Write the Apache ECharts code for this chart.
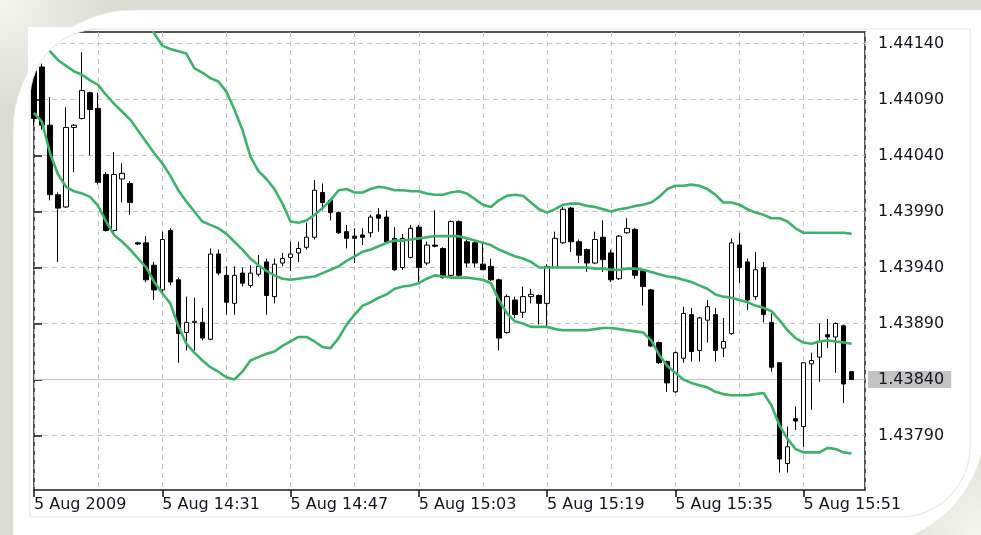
<!DOCTYPE html>
<html>
<head>
<meta charset="utf-8">
<script src="https://cdn.jsdelivr.net/npm/echarts@6/dist/echarts.min.js"></script>
<style>
  html, body { margin: 0; padding: 0; background: #dcdcd5; }
  #chart { width: 981px; height: 535px; }
</style>
</head>
<body>
<div id="chart"></div>
<script>
// EURUSD M1, 5 Aug 2009 14:15 - 15:57, with Bollinger Bands (20, 2)
const tickBars   = [0, 16, 32, 48, 64, 80, 96];
const tickLabels = ['5 Aug 2009', '5 Aug 14:31', '5 Aug 14:47', '5 Aug 15:03', '5 Aug 15:19', '5 Aug 15:35', '5 Aug 15:51'];
const priceTicks = [1.43790, 1.43840, 1.43890, 1.43940, 1.43990, 1.44040, 1.44090, 1.44140];

const open = [
  1.44116, 1.44119, 1.44067, 1.44005, 1.43994, 1.44065, 1.44073, 1.44096, 1.44082, 1.44023,
  1.43973, 1.44019, 1.44015, 1.43962, 1.43962, 1.43942, 1.43920, 1.43973, 1.43929, 1.43882,
  1.43891, 1.43891, 1.43876, 1.43952, 1.43933, 1.43908, 1.43935, 1.43924, 1.43934, 1.43945,
  1.43914, 1.43944, 1.43949, 1.43953, 1.43958, 1.43967, 1.44007, 1.44000, 1.43989, 1.43972,
  1.43968, 1.43969, 1.43971, 1.43987, 1.43985, 1.43966, 1.43940, 1.43949, 1.43976, 1.43944,
  1.43960, 1.43957, 1.43933, 1.43981, 1.43963, 1.43962, 1.43943, 1.43941, 1.43929, 1.43882,
  1.43911, 1.43900, 1.43914, 1.43915, 1.43908, 1.43940, 1.43962, 1.43993, 1.43963, 1.43956,
  1.43944, 1.43967, 1.43953, 1.43930, 1.43971, 1.43974, 1.43937, 1.43920, 1.43873, 1.43856,
  1.43829, 1.43859, 1.43898, 1.43866, 1.43893, 1.43898, 1.43868, 1.43881, 1.43960, 1.43945,
  1.43914, 1.43940, 1.43891, 1.43855, 1.43765, 1.43805, 1.43798, 1.43854, 1.43860, 1.43880,
  1.43878, 1.43888, 1.43847
];
const close = [
  1.44073, 1.44067, 1.44005, 1.43993, 1.44065, 1.44067, 1.44098, 1.44081, 1.44016, 1.43973,
  1.44023, 1.44024, 1.43998, 1.43961, 1.43929, 1.43920, 1.43965, 1.43927, 1.43881, 1.43891,
  1.43892, 1.43877, 1.43952, 1.43935, 1.43909, 1.43933, 1.43926, 1.43935, 1.43941, 1.43915,
  1.43943, 1.43948, 1.43952, 1.43957, 1.43967, 1.44009, 1.43998, 1.43989, 1.43971, 1.43966,
  1.43966, 1.43967, 1.43985, 1.43984, 1.43963, 1.43938, 1.43966, 1.43975, 1.43940, 1.43960,
  1.43959, 1.43931, 1.43981, 1.43933, 1.43944, 1.43944, 1.43938, 1.43929, 1.43877, 1.43914,
  1.43898, 1.43914, 1.43916, 1.43908, 1.43941, 1.43966, 1.43992, 1.43963, 1.43951, 1.43944,
  1.43965, 1.43947, 1.43929, 1.43968, 1.43975, 1.43933, 1.43923, 1.43870, 1.43855, 1.43837,
  1.43864, 1.43899, 1.43865, 1.43895, 1.43905, 1.43866, 1.43874, 1.43962, 1.43940, 1.43911,
  1.43938, 1.43898, 1.43851, 1.43769, 1.43780, 1.43803, 1.43855, 1.43857, 1.43874, 1.43878,
  1.43890, 1.43836, 1.43840
];
const high = [
  1.44120, 1.44122, 1.44092, 1.44007, 1.44083, 1.44068, 1.44132, 1.44097, 1.44096, 1.44025,
  1.44043, 1.44033, 1.44017, 1.43963, 1.43968, 1.43945, 1.43972, 1.43975, 1.43931, 1.43914,
  1.43913, 1.43904, 1.43957, 1.43956, 1.43941, 1.43941, 1.43940, 1.43942, 1.43951, 1.43948,
  1.43948, 1.43953, 1.43963, 1.43963, 1.43980, 1.44018, 1.44015, 1.44002, 1.43990, 1.43978,
  1.43975, 1.43975, 1.43987, 1.43993, 1.43991, 1.43976, 1.43970, 1.43978, 1.43978, 1.43963,
  1.43991, 1.43958, 1.43982, 1.43982, 1.43965, 1.43964, 1.43962, 1.43948, 1.43930, 1.43916,
  1.43914, 1.43923, 1.43921, 1.43916, 1.43943, 1.43972, 1.43994, 1.43994, 1.43965, 1.43957,
  1.43972, 1.43982, 1.43956, 1.43969, 1.43984, 1.43975, 1.43938, 1.43921, 1.43874, 1.43857,
  1.43865, 1.43905, 1.43904, 1.43896, 1.43911, 1.43904, 1.43895, 1.43966, 1.43971, 1.43948,
  1.43954, 1.43945, 1.43899, 1.43855, 1.43798, 1.43816, 1.43855, 1.43864, 1.43890, 1.43894,
  1.43891, 1.43889, 1.43847
];
const low = [
  1.44067, 1.44063, 1.44000, 1.43945, 1.43993, 1.44025, 1.44072, 1.44040, 1.44014, 1.43972,
  1.43972, 1.43998, 1.43987, 1.43960, 1.43927, 1.43911, 1.43918, 1.43924, 1.43855, 1.43866,
  1.43866, 1.43875, 1.43875, 1.43933, 1.43898, 1.43898, 1.43923, 1.43922, 1.43932, 1.43898,
  1.43908, 1.43941, 1.43937, 1.43945, 1.43956, 1.43965, 1.43991, 1.43982, 1.43970, 1.43957,
  1.43944, 1.43960, 1.43967, 1.43972, 1.43962, 1.43937, 1.43938, 1.43948, 1.43927, 1.43942,
  1.43958, 1.43930, 1.43931, 1.43931, 1.43940, 1.43940, 1.43938, 1.43928, 1.43866, 1.43881,
  1.43895, 1.43895, 1.43908, 1.43889, 1.43887, 1.43940, 1.43961, 1.43954, 1.43944, 1.43936,
  1.43943, 1.43936, 1.43927, 1.43929, 1.43970, 1.43930, 1.43906, 1.43869, 1.43854, 1.43829,
  1.43828, 1.43855, 1.43856, 1.43856, 1.43873, 1.43856, 1.43860, 1.43880, 1.43926, 1.43902,
  1.43911, 1.43891, 1.43847, 1.43757, 1.43757, 1.43795, 1.43780, 1.43813, 1.43838, 1.43868,
  1.43846, 1.43819, 1.43840
];

const bandUpper = [
  1.44212, 1.44209, 1.44224, 1.44228, 1.44228, 1.44222, 1.44218, 1.44212, 1.44211, 1.44207,
  1.44203, 1.44195, 1.44188, 1.44175, 1.44164, 1.44149, 1.44138, 1.44135, 1.44133, 1.44131,
  1.44118, 1.44114, 1.44109, 1.44106, 1.44097, 1.44081, 1.44063, 1.44039, 1.44026, 1.44019,
  1.44010, 1.43997, 1.43981, 1.43980, 1.43982, 1.43987, 1.43993, 1.44000, 1.44009, 1.44010,
  1.44007, 1.44007, 1.44010, 1.44012, 1.44011, 1.44009, 1.44009, 1.44008, 1.44008, 1.44006,
  1.44005, 1.44005, 1.44007, 1.44008, 1.44006, 1.44001, 1.43996, 1.43994, 1.44000, 1.44004,
  1.44005, 1.44004, 1.43998, 1.43992, 1.43989, 1.43992, 1.43996, 1.43997, 1.43997, 1.43995,
  1.43994, 1.43992, 1.43990, 1.43992, 1.43993, 1.43995, 1.43996, 1.43998, 1.44003, 1.44010,
  1.44013, 1.44013, 1.44014, 1.44013, 1.44010, 1.44005, 1.43998, 1.43998, 1.43996, 1.43992,
  1.43989, 1.43987, 1.43984, 1.43984, 1.43981, 1.43975, 1.43971, 1.43971, 1.43971, 1.43971,
  1.43971, 1.43971, 1.43970
];
const bandMiddle = [
  1.44145, 1.44139, 1.44133, 1.44125, 1.44120, 1.44115, 1.44112, 1.44107, 1.44103, 1.44094,
  1.44086, 1.44079, 1.44072, 1.44062, 1.44052, 1.44042, 1.44033, 1.44022, 1.44009, 1.43999,
  1.43990, 1.43981, 1.43978, 1.43975, 1.43970, 1.43963, 1.43956, 1.43948, 1.43942, 1.43937,
  1.43933, 1.43930, 1.43929, 1.43930, 1.43931, 1.43932, 1.43935, 1.43938, 1.43941, 1.43946,
  1.43950, 1.43954, 1.43956, 1.43959, 1.43962, 1.43964, 1.43964, 1.43965, 1.43966, 1.43967,
  1.43968, 1.43968, 1.43968, 1.43968, 1.43966, 1.43964, 1.43962, 1.43960, 1.43956, 1.43953,
  1.43950, 1.43948, 1.43945, 1.43940, 1.43940, 1.43940, 1.43940, 1.43940, 1.43940, 1.43940,
  1.43939, 1.43939, 1.43938, 1.43938, 1.43939, 1.43939, 1.43938, 1.43936, 1.43934, 1.43932,
  1.43931, 1.43929, 1.43927, 1.43924, 1.43921, 1.43916, 1.43914, 1.43913, 1.43911, 1.43909,
  1.43906, 1.43904, 1.43901, 1.43893, 1.43884, 1.43877, 1.43873, 1.43872, 1.43874, 1.43875,
  1.43874, 1.43873, 1.43872
];
const bandLower = [
  1.44078, 1.44070, 1.44042, 1.44023, 1.44012, 1.44008, 1.44006, 1.44003, 1.43995, 1.43981,
  1.43969, 1.43963, 1.43956, 1.43948, 1.43940, 1.43927, 1.43917, 1.43908, 1.43888, 1.43872,
  1.43864, 1.43857, 1.43851, 1.43847, 1.43842, 1.43840, 1.43847, 1.43857, 1.43860, 1.43863,
  1.43865, 1.43870, 1.43874, 1.43878, 1.43878, 1.43874, 1.43869, 1.43868, 1.43877, 1.43889,
  1.43898, 1.43906, 1.43909, 1.43913, 1.43916, 1.43921, 1.43923, 1.43924, 1.43926, 1.43930,
  1.43933, 1.43932, 1.43931, 1.43931, 1.43931, 1.43930, 1.43929, 1.43926, 1.43911, 1.43899,
  1.43892, 1.43890, 1.43887, 1.43887, 1.43887, 1.43885, 1.43884, 1.43884, 1.43884, 1.43884,
  1.43885, 1.43886, 1.43886, 1.43885, 1.43884, 1.43883, 1.43882, 1.43875, 1.43862, 1.43852,
  1.43846, 1.43840, 1.43837, 1.43835, 1.43833, 1.43829, 1.43827, 1.43826, 1.43826, 1.43826,
  1.43827, 1.43828, 1.43817, 1.43799, 1.43787, 1.43778, 1.43775, 1.43775, 1.43775, 1.43779,
  1.43778, 1.43775, 1.43774
];

const lastBar = close.length - 1;
const lastPrice = close[lastBar];
const candleData = open.map((o, i) => [i, o, close[i], low[i], high[i]]);
const toLine = arr => arr.map((v, i) => [i, v]);

const FONT = 'DejaVu Sans';
const TEXT = '#14141e';
const GRID_LINE = { color: '#c4c4c4', width: 1, type: [5, 4] };
const BAND_GREEN = '#3bb36b';

// white cover for the rounded top-left corner of the chart window
function cornerMask(cx, cy, r, x0, y0) {
  const pts = [[x0, y0], [cx, y0]];
  for (let a = -90; a >= -180; a -= 3) {
    const t = a * Math.PI / 180;
    pts.push([cx + r * Math.cos(t), cy + r * Math.sin(t)]);
  }
  pts.push([x0, cy]);
  return pts;
}

const bandSeries = (name, arr) => ({
  name, type: 'line', data: toLine(arr), xAxisIndex: 0, yAxisIndex: 0,
  showSymbol: false, symbol: 'none', smooth: false, silent: true, z: 4,
  lineStyle: { color: BAND_GREEN, width: 2.6 }
});

const cornerGlow = (x, y) => ({
  type: 'rect', silent: true, z: -20,
  shape: { x: x - 110, y: y - 110, width: 220, height: 220 },
  style: { fill: new echarts.graphic.RadialGradient(0.5, 0.5, 0.5, [
    { offset: 0, color: 'rgba(246,246,241,1)' },
    { offset: 1, color: 'rgba(246,246,241,0)' }
  ]) }
});

const chart = echarts.init(document.getElementById('chart'), null, { renderer: 'canvas' });
chart.setOption({
  animation: false,
  backgroundColor: '#dcdcd5',
  grid: {
    left: 34, top: 32, right: 116, bottom: 45,
    outerBoundsMode: 'none',
    show: true, backgroundColor: '#ffffff', borderColor: '#1a1a1a', borderWidth: 1.5
  },
  xAxis: [
    {
      type: 'value', min: 0, max: 103.67, position: 'bottom',
      axisLine: { show: false },
      axisTick: { show: true, customValues: tickBars, length: 7, lineStyle: { color: '#111', width: 1.5 } },
      axisLabel: {
        customValues: tickBars, showMinLabel: true, align: 'left', margin: 7,
        fontFamily: FONT, fontSize: 16, color: TEXT,
        formatter: v => tickLabels[tickBars.indexOf(Math.round(v))] || ''
      },
      splitLine: { show: false }
    },
    {
      type: 'value', min: 0, max: 103.67, interval: 8, position: 'bottom',
      axisLine: { show: false }, axisTick: { show: false }, axisLabel: { show: false },
      splitLine: { show: true, lineStyle: GRID_LINE }
    }
  ],
  yAxis: {
    type: 'value', position: 'right', min: 1.437414, max: 1.441502, scale: true,
    axisLine: { show: false },
    axisTick: { show: true, customValues: priceTicks, length: 8, lineStyle: { color: '#111', width: 1.5 } },
    axisLabel: {
      customValues: priceTicks.filter(p => Math.abs(p - lastPrice) > 1e-7),
      margin: 13, fontFamily: FONT, fontSize: 16, color: TEXT,
      formatter: v => v.toFixed(5)
    },
    splitLine: { show: true, lineStyle: GRID_LINE }
  },
  series: [
    {
      // current bid line with its price tag on the scale
      name: 'Bid', type: 'line', data: [[lastBar, lastPrice]],
      symbol: 'none', showSymbol: false, silent: true, z: 2,
      lineStyle: { opacity: 0 },
      markLine: {
        silent: true, symbol: 'none', z: 2, precision: 5,
        lineStyle: { color: '#c2c2c2', type: 'solid', width: 1 },
        label: {
          show: true, position: 'end', distance: 3, formatter: lastPrice.toFixed(5),
          backgroundColor: '#c3c3c3', padding: [1, 7, 0, 10],
          fontFamily: FONT, fontSize: 16, color: TEXT
        },
        data: [{ yAxis: lastPrice }]
      }
    },
    {
      name: 'EURUSD', type: 'candlestick', data: candleData,
      encode: { x: 0, y: [1, 2, 3, 4] },
      barWidth: 5, z: 3,
      itemStyle: {
        color: '#ffffff', color0: '#000000',
        borderColor: '#000000', borderColor0: '#000000', borderColorDoji: '#000000',
        borderWidth: 1
      }
    },
    bandSeries('Upper', bandUpper),
    bandSeries('Middle', bandMiddle),
    bandSeries('Lower', bandLower)
  ],
  graphic: [
    cornerGlow(0, 0),
    cornerGlow(981, 535),
    { type: 'rect', z: -10, silent: true,
      shape: { x: 13, y: 10, width: 972, height: 535, r: [120, 0, 120, 0] },
      style: { fill: '#ffffff', stroke: '#e9e9e4', lineWidth: 1 } },
    { type: 'rect', z: -5, silent: true,
      shape: { x: 30, y: 29, width: 940, height: 488, r: [70, 0, 70, 0] },
      style: { fill: 'none', stroke: '#e3e3e3', lineWidth: 1 } },
    // rounded top-left corner of the chart window, on its own layer above the plot
    { type: 'polygon', zlevel: 1, z: 100, silent: true,
      shape: { points: cornerMask(100, 99, 70, 28, 27) },
      style: { fill: '#ffffff' } },
    { type: 'arc', zlevel: 1, z: 101, silent: true,
      shape: { cx: 100, cy: 99, r: 70, startAngle: Math.PI, endAngle: 1.5 * Math.PI },
      style: { stroke: '#e3e3e3', fill: null, lineWidth: 1 } }
  ]
});
</script>
</body>
</html>
